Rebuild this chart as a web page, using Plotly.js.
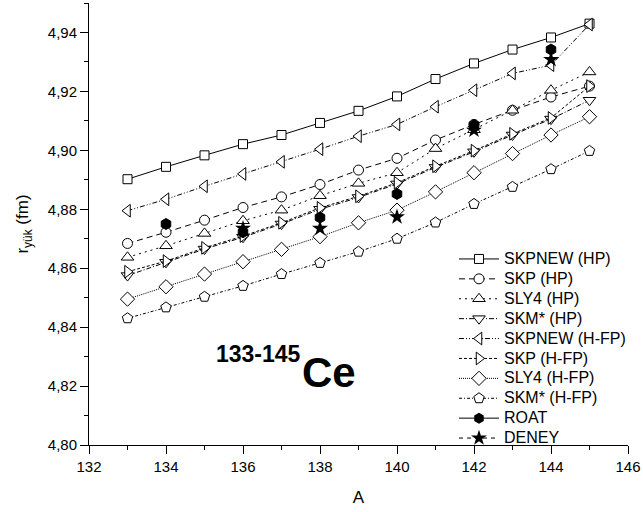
<!DOCTYPE html>
<html><head><meta charset="utf-8">
<script src="https://cdn.plot.ly/plotly-3.0.1.min.js"></script>
<style>body{margin:0;background:#fff}#chart{width:643px;height:512px}</style>
</head><body><div id="chart"></div>
<script>
const A = [133,134,135,136,137,138,139,140,141,142,143,144,145];
const skpnewHP = [4.8902,4.8944,4.8983,4.9021,4.9052,4.9093,4.9134,4.9183,4.9242,4.9295,4.9342,4.9383,4.9430];
const skpHP    = [4.8684,4.8722,4.8763,4.8806,4.8842,4.8884,4.8933,4.8973,4.9035,4.9088,4.9136,4.9181,4.9218];
const sly4HP   = [4.8637,4.8676,4.8718,4.8761,4.8797,4.8846,4.8888,4.8924,4.9006,4.9070,4.9136,4.9204,4.9266];
const skmHP    = [4.8575,4.8620,4.8665,4.8705,4.8750,4.8800,4.8840,4.8886,4.8942,4.8995,4.9052,4.9106,4.9170];
const skpnewHFP= [4.8795,4.8834,4.8878,4.8920,4.8961,4.9004,4.9048,4.9088,4.9148,4.9204,4.9261,4.9289,4.9427];
const skpHFP   = [4.8588,4.8624,4.8669,4.8709,4.8754,4.8805,4.8844,4.8890,4.8946,4.8999,4.9056,4.9110,4.9218];
const sly4HFP  = [4.8495,4.8537,4.8580,4.8622,4.8664,4.8707,4.8754,4.8797,4.8859,4.8924,4.8989,4.9052,4.9114];
const skmHFP   = [4.8430,4.8467,4.8503,4.8540,4.8580,4.8618,4.8656,4.8700,4.8755,4.8818,4.8876,4.8936,4.8998];
const roatA = [134,136,138,140,142,144];
const roat  = [4.8750,4.8722,4.8772,4.8852,4.9086,4.9342];
const deneyA = [136,138,140,142,144];
const deney  = [4.8735,4.8735,4.8774,4.9068,4.9308];

const names = ['SKPNEW (HP)','SKP (HP)','SLY4 (HP)','SKM* (HP)','SKPNEW (H-FP)','SKP (H-FP)','SLY4 (H-FP)','SKM* (H-FP)','ROAT','DENEY'];
const lbl = n => '<span style="font-size:16px">' + n + '</span>';

function open(name, y, sym, dash, size){
  return {x:A, y:y, name:lbl(name), mode:'lines+markers', type:'scatter',
    line:{color:'black', width:1, dash:dash},
    marker:{symbol:sym, size:size, color:'white', line:{color:'black', width:1}}};
}
const traces = [
  open(names[0], skpnewHP, 'square', 'solid', 9),
  open(names[1], skpHP, 'circle', '6px,4px', 10),
  open(names[2], sly4HP, 'triangle-up', '2px,4px', 11),
  open(names[3], skmHP, 'triangle-down', '5px,2px,1px,2px', 11),
  open(names[4], skpnewHFP, 'triangle-left', '5px,2px,1px,2px,1px,2px', 11),
  open(names[5], skpHFP, 'triangle-right', '3px,2px', 11),
  open(names[6], sly4HFP, 'diamond', '1px,1px', 11),
  open(names[7], skmHFP, 'pentagon', '3px,2px,1px,2px', 11),
  {x:roatA, y:roat, name:lbl(names[8]), mode:'markers', type:'scatter', showlegend:false, legendgroup:'roat',
   marker:{symbol:'hexagon', size:11, color:'black', line:{color:'black', width:1}}},
  {x:deneyA, y:deney, name:lbl(names[9]), mode:'markers', type:'scatter', showlegend:false, legendgroup:'deney',
   marker:{symbol:'star', size:12, color:'black', line:{color:'black', width:0}}},
  {x:[null], y:[null], name:lbl(names[8]), mode:'lines+markers', type:'scatter', legendgroup:'roat',
   line:{color:'black', width:1}, marker:{symbol:'hexagon', size:11, color:'black'}},
  {x:[null], y:[null], name:lbl(names[9]), mode:'lines+markers', type:'scatter', legendgroup:'deney',
   line:{color:'black', width:1, dash:'4px,4px'}, marker:{symbol:'star', size:12, color:'black'}}
];

const font = 'Arial, "Liberation Sans", Helvetica, sans-serif';
const layout = {
  width:643, height:512,
  margin:{l:89, r:15, t:3, b:67},
  paper_bgcolor:'white', plot_bgcolor:'white',
  separators:',.',
  font:{family:font, size:15, color:'black'},
  showlegend:true,
  legend:{x:(454-89)/539, y:(445-244)/442, xanchor:'left', yanchor:'top', bgcolor:'rgba(0,0,0,0)',
    font:{family:font, size:13, color:'black'}, tracegroupgap:0, itemwidth:40},
  xaxis:{range:[132,146], dtick:2, tick0:132, showgrid:false, zeroline:false,
    showline:true, linecolor:'black', linewidth:1, ticks:'outside', ticklen:8, tickcolor:'black',
    minor:{dtick:1, ticks:'outside', ticklen:4, tickcolor:'black'},
    tickfont:{family:font, size:15},
    title:{text:'A', font:{family:font, size:17}, standoff:17}},
  yaxis:{range:[4.80,4.95], dtick:0.02, tick0:4.80, tickformat:'.2f', showgrid:false, zeroline:false,
    showline:true, linecolor:'black', linewidth:1, ticks:'outside', ticklen:8, tickcolor:'black',
    minor:{dtick:0.01, ticks:'outside', ticklen:4, tickcolor:'black'},
    tickfont:{family:font, size:15},
    title:{text:'r<sub>yük</sub> (fm)', font:{family:font, size:17}, standoff:14}},
  annotations:[
    {xref:'paper', yref:'paper', x:(258-89)/539, y:(445-354)/442, text:'<b>133-145</b>', showarrow:false,
     font:{family:font, size:23, color:'black'}, xanchor:'center', yanchor:'middle'},
    {xref:'paper', yref:'paper', x:(329-89)/539, y:(445-372)/442, text:'<b>Ce</b>', showarrow:false,
     font:{family:font, size:42, color:'black'}, xanchor:'center', yanchor:'middle'}
  ]
};
Plotly.newPlot('chart', traces, layout, {displayModeBar:false, staticPlot:true});
</script>
</body></html>
